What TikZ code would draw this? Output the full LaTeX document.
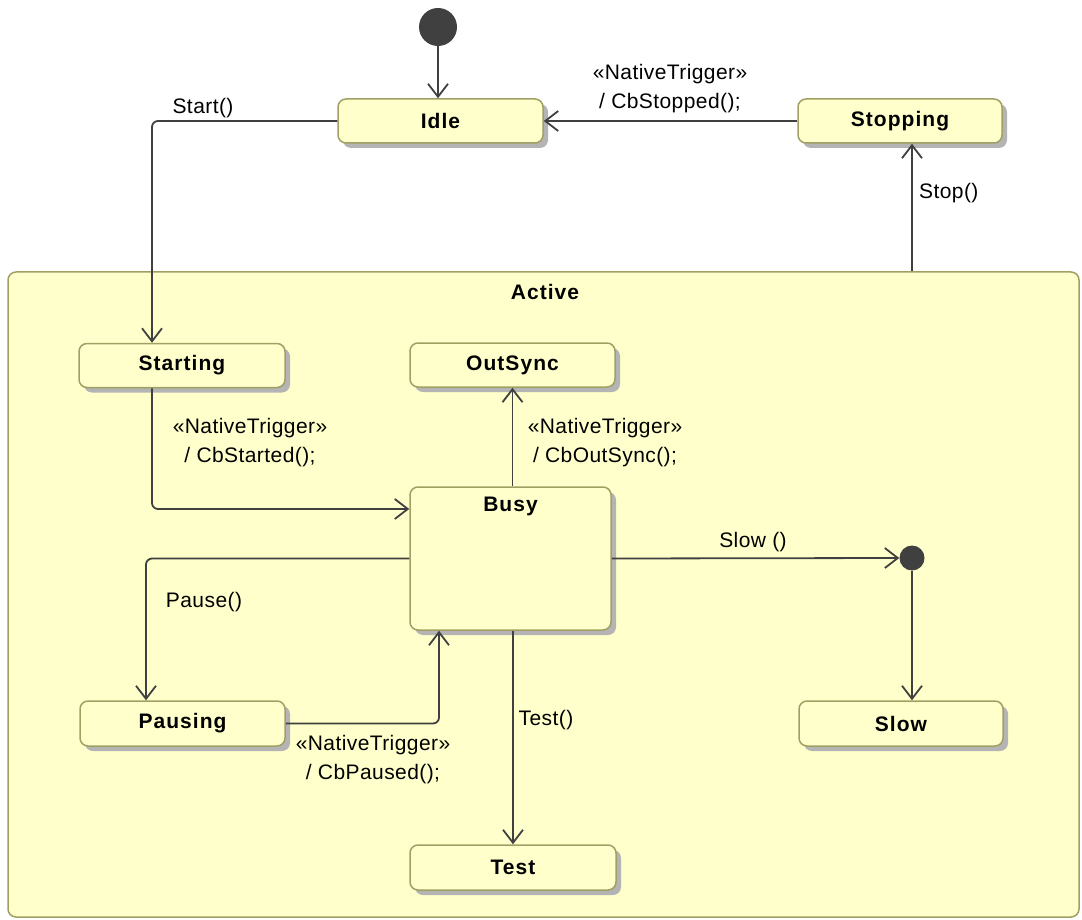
\documentclass[tikz,border=0pt]{standalone}
\usepackage{fontspec}
\setmainfont{Liberation Sans}[LetterSpace=2,BoldFeatures={LetterSpace=5}]
\usetikzlibrary{arrows.meta,shadows}
\definecolor{statefill}{HTML}{FFFFCC}
\definecolor{stateline}{HTML}{A0A064}
\definecolor{shadowgray}{HTML}{B4B4B4}
\definecolor{edgecol}{HTML}{404040}
\newcommand\lblfont{\fontsize{21}{29}\selectfont}
\tikzset{
  statebox/.style={draw=stateline, fill=statefill, line width=1.5pt, rounded corners=8pt,
    inner sep=0pt, font=\lblfont\bfseries,
    drop shadow={shadow xshift=5pt, shadow yshift=-5pt, fill=shadowgray, opacity=1}},
  compbox/.style={draw=stateline, fill=statefill, line width=1.5pt, rounded corners=8pt, inner sep=0pt},
  blob/.style={circle, fill=edgecol, inner sep=0pt},
  trans/.style={draw=edgecol, line width=1.8pt, rounded corners=6pt,
    -{Straight Barb[length=13pt,width=20pt,line width=1.8pt]}},
  lbl/.style={font=\lblfont, align=center, inner sep=0pt},
}
\begin{document}
\begin{tikzpicture}[x=1pt,y=-1pt]
\useasboundingbox (0,0) rectangle (1082,920);
% composite
\node[compbox, minimum width=1071pt, minimum height=645pt] (active) at (543.5,594.5) {};
\node[lbl, font=\lblfont\bfseries] (activetitle) at (545,292) {Active};
% states
\node[blob, minimum size=38pt] (init) at (438,27) {};
\node[statebox, minimum width=205pt, minimum height=44pt] (idle) at (440.5,121) {Idle};
\node[statebox, minimum width=204pt, minimum height=44pt] (stopping) at (900,121) {Stopping};
\node[statebox, minimum width=206pt, minimum height=44pt] (starting) at (182,365.5) {Starting};
\node[statebox, minimum width=205pt, minimum height=44pt] (outsync) at (512.5,365) {OutSync};
\node[statebox, minimum width=201pt, minimum height=143pt] (busy) at (510.5,558.5) {};
\node[lbl, font=\lblfont\bfseries] (busytitle) at (510.5,506) {Busy};
\node[blob, minimum size=25pt] (junction) at (912,558) {};
\node[statebox, minimum width=204pt, minimum height=45pt] (slow) at (901,723.5) {Slow};
\node[statebox, minimum width=205pt, minimum height=45pt] (pausing) at (182.5,723.5) {Pausing};
\node[statebox, minimum width=206pt, minimum height=45pt] (test) at (513,867.5) {Test};
% transitions
\draw[trans] (init) -- (init |- idle.north);
\draw[trans] (idle.west) -| ([xshift=-30pt]starting.north);
\draw[trans] (stopping.west) -- (idle.east);
\draw[trans] ([xshift=12pt]stopping.south |- active.north) -- ([xshift=12pt]stopping.south);
\draw[trans] ([xshift=-30pt]starting.south) |- ([yshift=49.5pt]busy.west);
\draw[trans] (busy.north -| outsync.south) -- (outsync.south);
\draw[trans] (busy.east) -- (junction.west);
\draw[trans] (junction.south) -- (junction.south |- slow.north);
\draw[trans] (busy.west) -| ([xshift=-36.5pt]pausing.north);
\draw[trans] (pausing.east) -| ([xshift=-71.5pt]busy.south);
\draw[trans] (busy.south -| test.north) -- (test.north);
% labels
\node[lbl] (lstart) at (203,108) {Start()};
\node[lbl] (lstopped) at (670,89) {«NativeTrigger»\\ / CbStopped();};
\node[lbl, anchor=west] (lstop) at (919,193) {Stop()};
\node[lbl] (lstarted) at (250,443) {«NativeTrigger»\\ / CbStarted();};
\node[lbl] (loutsync) at (605,443) {«NativeTrigger»\\ / CbOutSync();};
\node[lbl] (lslow) at (753,542) {Slow ()};
\node[lbl] (lpause) at (204,602) {Pause()};
\node[lbl] (lpaused) at (373,760) {«NativeTrigger»\\ / CbPaused();};
\node[lbl] (ltest) at (546,720) {Test()};
\end{tikzpicture}
\end{document}
